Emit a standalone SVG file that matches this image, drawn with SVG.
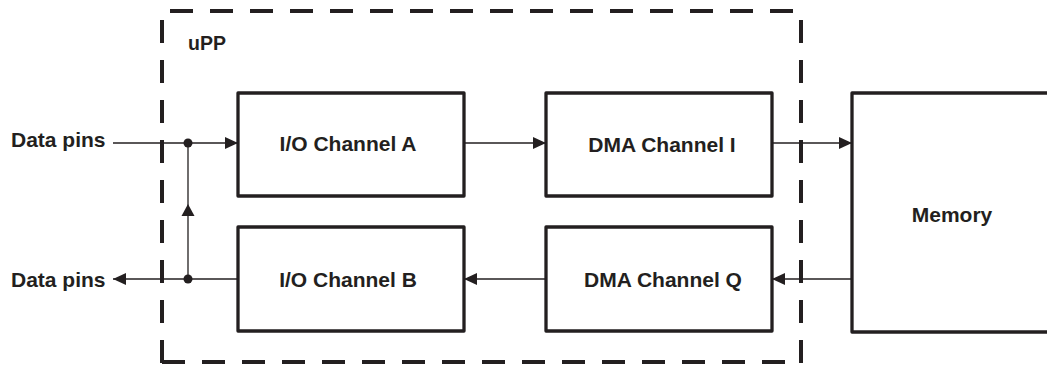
<svg xmlns="http://www.w3.org/2000/svg" width="1047" height="366" viewBox="0 0 1047 366">
<style>
.frame{fill:none;stroke:#231f20;stroke-width:4;stroke-dasharray:23 17;}
.box{fill:#fff;stroke:#231f20;stroke-width:3.3;stroke-linejoin:round;}
.wire{fill:none;stroke:#231f20;stroke-width:1.3;}
.lbl{font-family:"Liberation Sans",Arial,sans-serif;font-weight:bold;font-size:21px;fill:#231f20;}
.mid{text-anchor:middle;}
</style>
<defs>
<marker id="arr" markerUnits="userSpaceOnUse" markerWidth="13" markerHeight="12" refX="13" refY="6" orient="auto">
<path d="M0,0 L13,6 L0,12 z" fill="#231f20"/>
</marker>
</defs>
<g id="upp-frame">
<line class="frame" x1="170" y1="11" x2="801" y2="11"/>
<line class="frame" x1="162" y1="20" x2="162" y2="364"/>
<line class="frame" x1="801" y1="20" x2="801" y2="364"/>
<line class="frame" x1="162" y1="362" x2="790" y2="362"/>
<text class="lbl" x="188" y="50" style="font-size:19.5px">uPP</text>
</g>
<g id="io-a">
<rect class="box" x="238" y="93" width="226" height="103"/>
<text class="lbl mid" x="348" y="151">I/O Channel A</text>
</g>
<g id="io-b">
<rect class="box" x="238" y="227" width="226" height="104"/>
<text class="lbl mid" x="348" y="287">I/O Channel B</text>
</g>
<g id="dma-i">
<rect class="box" x="546" y="93" width="226" height="103"/>
<text class="lbl mid" x="662" y="152">DMA Channel I</text>
</g>
<g id="dma-q">
<rect class="box" x="546" y="227" width="226" height="104"/>
<text class="lbl mid" x="663" y="287">DMA Channel Q</text>
</g>
<g id="memory">
<rect class="box" x="852" y="93" width="200" height="239"/>
<text class="lbl mid" x="952" y="222">Memory</text>
</g>
<g id="pins-in">
<text class="lbl" x="11" y="147">Data pins</text>
</g>
<g id="pins-out">
<text class="lbl" x="11" y="287">Data pins</text>
</g>
<g id="connectors">
<line class="wire" x1="113" y1="143" x2="238" y2="143" marker-end="url(#arr)"/>
<line class="wire" x1="188" y1="279" x2="188" y2="143"/>
<polygon points="188,204 194.5,216 181.5,216" fill="#231f20"/>
<line class="wire" x1="238" y1="279" x2="113" y2="279" marker-end="url(#arr)"/>
<line class="wire" x1="464" y1="143" x2="546" y2="143" marker-end="url(#arr)"/>
<line class="wire" x1="772" y1="143" x2="852" y2="143" marker-end="url(#arr)"/>
<line class="wire" x1="852" y1="279" x2="772" y2="279" marker-end="url(#arr)"/>
<line class="wire" x1="546" y1="279" x2="464" y2="279" marker-end="url(#arr)"/>
<circle cx="188" cy="143" r="4.5" fill="#231f20"/>
<circle cx="188" cy="279" r="4.5" fill="#231f20"/>
</g>
</svg>
